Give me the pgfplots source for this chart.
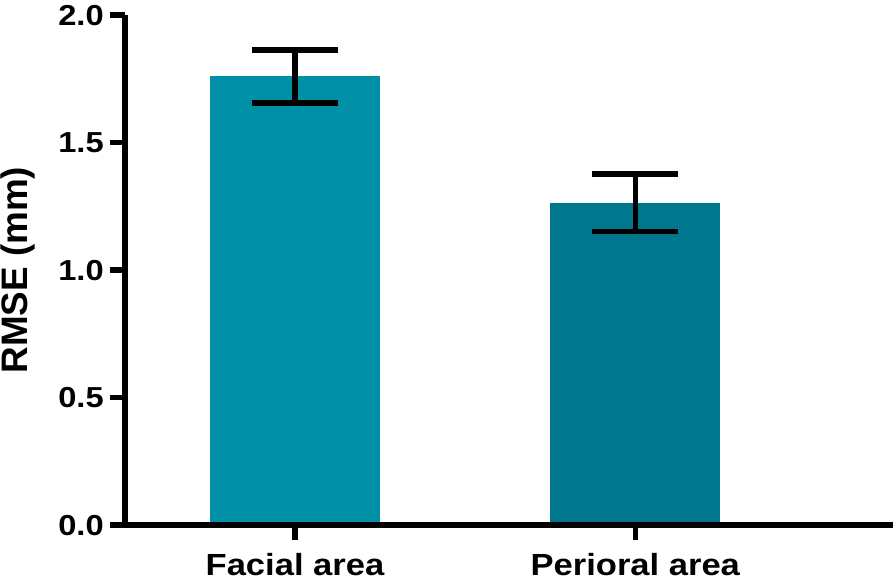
\documentclass[border={1pt 0pt 0pt 5pt}]{standalone}
\usepackage{graphicx}
\usepackage{pgfplots}
\pgfplotsset{compat=1.18}
\usepackage{fontspec}
\setmainfont{Liberation Sans}
\definecolor{barA}{RGB}{0,144,168}
\definecolor{barB}{RGB}{0,119,140}
\newcommand{\wide}[1]{\scalebox{1.13}[1]{#1}}
\begin{document}
\begin{tikzpicture}
  \begin{axis}[
    scale only axis,
    width=771.5pt, height=512pt,
    axis x line*=bottom, axis y line*=left,
    axis line style={line width=5.5pt},
    axis on top,
    xmin=0.5, xmax=2.758,
    ymin=0, ymax=2,
    xtick={1,2},
    xticklabels={\wide{Facial area}, \wide{Perioral area}},
    ytick={0,0.5,1,1.5,2},
    yticklabels={\wide{0.0},\wide{0.5},\wide{1.0},\wide{1.5},\wide{2.0}},
    tick align=outside,
    major tick length=15pt,
    tick style={line width=5.5pt, black},
    yticklabel style={font=\bfseries\fontsize{29}{34}\selectfont, inner sep=0pt, xshift=-6pt},
    xticklabel style={font=\bfseries\fontsize{30.7}{36}\selectfont, inner sep=0pt, yshift=-13pt, text depth=6pt},
    ylabel={RMSE (mm)},
    ylabel style={font=\bfseries\fontsize{37}{42}\selectfont, inner sep=0pt,
      at={(axis description cs:-0.1614,0.5)}, anchor=north},
    ybar, bar width=171pt, bar shift=0pt,
    error bars/y dir=both, error bars/y explicit,
    error bars/error bar style={line width=5.5pt, black},
    error bars/error mark options={rotate=90, mark size=43pt, line width=5.5pt, black},
  ]
  \addplot[fill=barA, draw=none] coordinates {(1, 1.760) +- (0, 0.104)};
  \addplot[fill=barB, draw=none] coordinates {(2, 1.264) +- (0, 0.113)};
  \end{axis}
\end{tikzpicture}
\end{document}
